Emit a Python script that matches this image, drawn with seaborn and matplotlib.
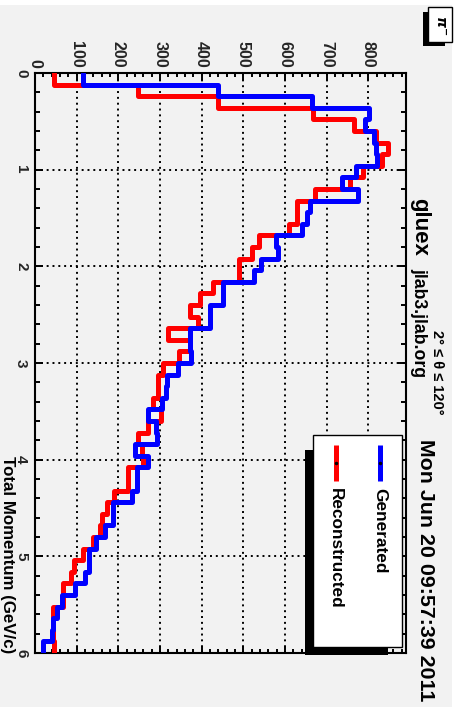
import numpy as np
import pandas as pd
import matplotlib
matplotlib.use("Agg")
import matplotlib.pyplot as plt
import seaborn as sns
from matplotlib.patches import Rectangle
from matplotlib.lines import Line2D
from matplotlib.ticker import MultipleLocator

# ---------------- data ----------------
p_min, p_max, n_bins = 0.0, 6.0, 50
generated = [116, 438, 664, 802, 792, 814, 818, 820, 770, 736,
             776, 660, 652, 640, 578, 584, 542, 525, 450, 452,
             420, 420, 372, 372, 374, 342, 316, 314, 304, 272,
             290, 292, 240, 272, 244, 244, 232, 188, 188, 168,
             146, 130, 130, 120, 96, 64, 52, 42, 40, 20]
reconstructed = [46, 248, 438, 667, 766, 818, 848, 832, 786, 756,
                 672, 628, 628, 610, 538, 520, 490, 490, 428, 396,
                 372, 392, 320, 372, 346, 308, 294, 294, 282, 302,
                 272, 248, 256, 258, 224, 222, 190, 172, 160, 156,
                 140, 116, 94, 86, 68, 68, 44, 44, 42, 46]
series_names = ["Generated", "Reconstructed"]
series_colors = {"Generated": "#0000ff", "Reconstructed": "#ff0000"}
count_ticks = [0, 100, 200, 300, 400, 500, 600, 700, 800]
momentum_ticks = [0, 1, 2, 3, 4, 5, 6]

edges = np.linspace(p_min, p_max, n_bins + 1)
centers = 0.5 * (edges[:-1] + edges[1:])
df = pd.concat([
    pd.DataFrame({"momentum": centers, "count": generated, "series": "Generated"}),
    pd.DataFrame({"momentum": centers, "count": reconstructed, "series": "Reconstructed"}),
])

# ---------------- style ----------------
sns.set_theme(style="ticks")
plt.rcParams["font.family"] = ["Liberation Sans", "DejaVu Sans"]
plt.rcParams["font.weight"] = "bold"
plt.rcParams["mathtext.fontset"] = "dejavusans"

W, H = 461, 707
BG = "#f2f2f2"
fig = plt.figure(figsize=(W / 100, H / 100), dpi=100, facecolor=BG)

L, R, T, B = 35, 406, 73, 653
ax = fig.add_axes([L / W, 1 - B / H, (R - L) / W, (B - T) / H])
ax.set_facecolor(BG)

bw = (p_max - p_min) / n_bins
for name in ["Reconstructed", "Generated"]:
    sns.histplot(data=df[df["series"] == name], y="momentum", weights="count",
                 binwidth=bw, binrange=(p_min, p_max), element="step", fill=False,
                 color=series_colors[name], linewidth=3.6, ax=ax, zorder=3)

ymax = 1.05 * max(max(generated), max(reconstructed))
ax.set_xlim(0, ymax)
ax.set_ylim(p_max, p_min)
ax.set_xlabel("")
ax.set_ylabel("")

ax.set_xticks(count_ticks)
ax.xaxis.set_minor_locator(MultipleLocator(20))
ax.set_yticks(momentum_ticks)
ax.yaxis.set_minor_locator(MultipleLocator(0.2))
ax.set_xticklabels([str(t) for t in count_ticks])
ax.set_yticklabels([str(t) for t in momentum_ticks])

ax.tick_params(axis="x", which="both", direction="in", top=True, bottom=True,
               labeltop=True, labelbottom=False, labelrotation=270,
               labelsize=11.5, pad=3.6, width=1.4, color="black")
ax.tick_params(axis="x", which="major", length=5)
ax.tick_params(axis="x", which="minor", length=3)
ax.tick_params(axis="y", which="both", direction="in", left=True, right=True,
               labelleft=True, labelright=False, labelrotation=270,
               labelsize=11, pad=5, width=1.4, color="black")
ax.tick_params(axis="y", which="major", length=6)
ax.tick_params(axis="y", which="minor", length=3.5)
plt.setp(ax.get_yticklabels(), va="center", fontweight="bold")
plt.setp(ax.get_xticklabels(), fontweight="bold")

ax.grid(True, which="major", color="black", linestyle=(0, (1, 2)), linewidth=1.4)
ax.set_axisbelow(True)
for s in ax.spines.values():
    s.set_linewidth(1.5)
    s.set_color("black")
    s.set_visible(True)

# ---------------- overlay in pixel coordinates ----------------
ov = fig.add_axes([0, 0, 1, 1], zorder=10)
ov.set_xlim(0, W)
ov.set_ylim(H, 0)
ov.axis("off")
ov.patch.set_alpha(0)

# white canvas border
ov.add_patch(Rectangle((0, 0), W, 5, color="white", lw=0))
ov.add_patch(Rectangle((452, 0), W - 452, H, color="white", lw=0))

def rtext(x, y, s, size, ha="left", **kw):
    ov.text(x, y, s, rotation=270, rotation_mode="anchor", ha=ha, va="baseline",
            fontsize=size, fontweight="bold", color="black", **kw)

rtext(420, 439, "Mon Jun 20 09:57:39 2011", 15.4)
rtext(414, 198, "gluex", 16)
rtext(414, 268, "jlab3.jlab.org", 12.7)
rtext(433, 330, "2° ≤ θ ≤ 120°", 10.5)
rtext(2.5, 653, "Total Momentum (GeV/c)", 12.2, ha="right")

# pi- box
ov.add_patch(Rectangle((423, 12), 22, 34, color="black", lw=0))
ov.add_patch(Rectangle((428, 7), 24, 35, facecolor="white", edgecolor="black", lw=1))
ov.text(440, 25, r"$\pi^{-}$", rotation=270, ha="center", va="center",
        fontsize=10, color="black")

# legend
ov.add_patch(Rectangle((305, 450), 83, 205, color="black", lw=0))
ov.add_patch(Rectangle((313, 435), 89, 212, facecolor="white", edgecolor="black", lw=1))
for name, xc, xb in [("Generated", 380, 375), ("Reconstructed", 336, 330.5)]:
    ov.add_line(Line2D([xc, xc], [445, 481], color=series_colors[name], lw=3.6,
                       solid_capstyle="butt"))
    ov.plot([xc], [463], marker="o", ms=1.5, color="black")
    rtext(xb, 488, name, 12.4)

fig.savefig("out.png", dpi=100, facecolor=BG)
